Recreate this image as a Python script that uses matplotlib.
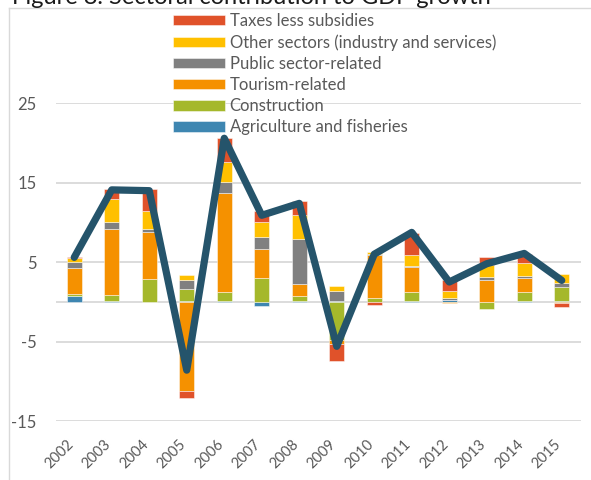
import numpy as np
import matplotlib
matplotlib.use("Agg")
import matplotlib.pyplot as plt
import matplotlib.transforms as mtransforms
from matplotlib.lines import Line2D

plt.rcParams['font.family'] = ['Lato', 'DejaVu Sans']
plt.rcParams['axes.unicode_minus'] = False

# ======== data ========
years = [str(y) for y in range(2002, 2016)]
agriculture = [0.7, 0.1, 0.0, 0.15, 0.15, -0.5, 0.1, 0.1, 0.0, 0.05, 0.2, 0.0, 0.1, 0.1]
construction = [0.35, 0.8, 2.9, 1.45, 1.1, 3.0, 0.6, -4.8, 0.45, 1.25, 0.0, -0.9, 1.15, 1.8]
tourism = [3.25, 8.3, 5.9, -11.2, 12.4, 3.6, 1.6, -0.5, 5.45, 3.05, -0.2, 2.8, 1.75, -0.2]
public = [0.7, 0.8, 0.35, 1.1, 1.45, 1.6, 5.65, 1.3, 0.15, 0.15, 0.3, 0.35, 0.25, 0.5]
other = [0.55, 2.9, 2.3, 0.65, 2.55, 1.8, 3.0, 0.55, 0.2, 1.35, 0.85, 1.45, 1.6, 1.15]
taxes = [0.15, 1.3, 2.75, -0.85, 2.95, 1.4, 1.75, -2.1, -0.35, 2.85, 1.35, 1.0, 1.15, -0.5]
gdp_growth = [5.6, 14.1, 14.0, -8.6, 20.6, 10.9, 12.4, -5.6, 6.0, 8.75, 2.5, 4.8, 6.1, 2.7]

series = [
    ("Agriculture and fisheries", agriculture, "#3E86B1"),
    ("Construction", construction, "#A5B82B"),
    ("Tourism-related", tourism, "#F59100"),
    ("Public sector-related", public, "#808080"),
    ("Other sectors (industry and services)", other, "#FFC000"),
    ("Taxes less subsidies", taxes, "#E0522A"),
]

grey_text = "#595959"
grid_col = "#D9D9D9"

fig = plt.figure(figsize=(5.91, 4.8), dpi=100)
ax = fig.add_axes([55.5 / 591, 1 - 421 / 480, 525 / 591, (421 - 103.3) / 480])

x = np.arange(len(years))
pos_bottom = np.zeros(len(years))
neg_bottom = np.zeros(len(years))
handles = []
for name, vals, col in series:
    v = np.array(vals)
    bottom = np.where(v >= 0, pos_bottom, neg_bottom)
    b = ax.bar(x, v, width=0.4, bottom=bottom, color=col,
               edgecolor=(1, 1, 1, 0.55), linewidth=0.6, zorder=3, label=name)
    handles.append(b)
    pos_bottom += np.where(v >= 0, v, 0)
    neg_bottom += np.where(v < 0, v, 0)

ax.plot(x, gdp_growth, color="#25546B", lw=5.2, solid_joinstyle="round",
        solid_capstyle="round", zorder=5)

# axes styling
ax.set_xlim(-0.5, len(years) - 0.5)
ax.set_ylim(-15, 25)
ax.set_yticks([-15, -5, 5, 15, 25])
ax.grid(axis="y", color=grid_col, lw=1.3, zorder=0)
ax.axhline(0, color=grid_col, lw=1.3, zorder=1)
for s in ax.spines.values():
    s.set_visible(False)
ax.tick_params(axis="both", length=0, labelcolor=grey_text)
ax.tick_params(axis="y", pad=13.5, labelsize=12)
ax.set_xticks(x)
ax.set_xticklabels(years, rotation=45, ha="right", va="center", rotation_mode="anchor")
ax.tick_params(axis="x", pad=16, labelsize=10.5)
shift = mtransforms.ScaledTranslation(-3 / 100, 1 / 100, fig.dpi_scale_trans)
for lab in ax.get_xticklabels():
    lab.set_transform(lab.get_transform() + shift)

# legend (reverse order, top = taxes)
ax.legend(handles[::-1], [s[0] for s in series][::-1], loc="upper left",
          bbox_to_anchor=(173 / 591, 1 - 13 / 480), bbox_transform=fig.transFigure,
          frameon=False, fontsize=12, labelcolor=grey_text, handlelength=3.1,
          handleheight=0.6, handletextpad=0.3, labelspacing=0.31, borderaxespad=0,
          borderpad=0)

# outer frame of the chart (only top and left edge visible)
fig.add_artist(Line2D([9.5 / 591, 9.5 / 591], [0, 1 - 7.5 / 480], color=grid_col, lw=1,
                      transform=fig.transFigure))
fig.add_artist(Line2D([9.5 / 591, 1], [1 - 7.5 / 480, 1 - 7.5 / 480], color=grid_col, lw=1,
                      transform=fig.transFigure))

# title, cut off at the top
fig.text(12 / 591, 1 - 4 / 480, "Figure 8. Sectoral contribution to GDP growth",
         va="baseline", ha="left", fontsize=17, color="#1a1a1a")

fig.savefig("out.png", dpi=100)
